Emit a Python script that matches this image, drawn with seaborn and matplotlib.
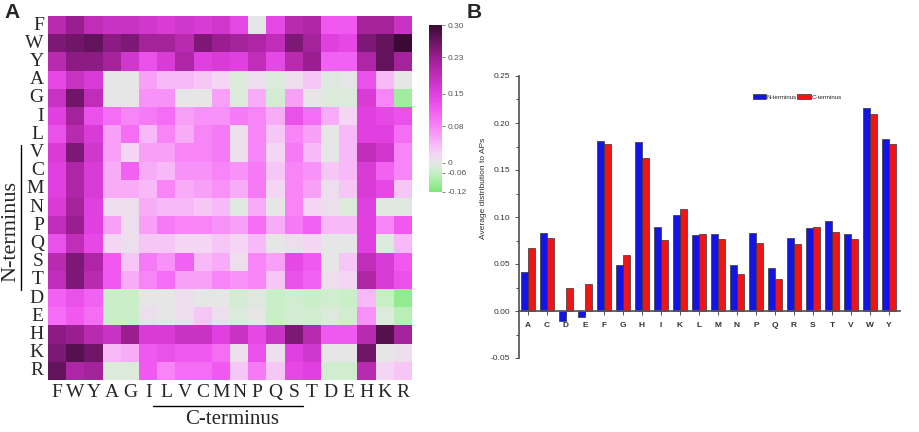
import numpy as np
import matplotlib
matplotlib.use("Agg")
import matplotlib.pyplot as plt
import matplotlib.colors as mcolors
from matplotlib.lines import Line2D
from matplotlib.ticker import AutoMinorLocator, FormatStrFormatter
import pandas as pd
import seaborn as sns

## Heatmap data (rows = N-terminus residue, cols = C-terminus residue) ##
residues = ["F", "W", "Y", "A", "G", "I", "L", "V", "C", "M",
            "N", "P", "Q", "S", "T", "D", "E", "H", "K", "R"]

heat_values = [
    # F    W     Y     A     G     I     L     V     C     M     N     P     Q     S     T     D     E     H     K     R
    [0.20, 0.23, 0.19, 0.18, 0.18, 0.17, 0.16, 0.17, 0.16, 0.17, 0.14, 0.00, 0.14, 0.20, 0.21, 0.12, 0.12, 0.22, 0.22, 0.18],   # F
    [0.25, 0.26, 0.27, 0.24, 0.25, 0.22, 0.22, 0.20, 0.25, 0.23, 0.22, 0.21, 0.19, 0.25, 0.22, 0.15, 0.14, 0.25, 0.27, 0.30],   # W
    [0.20, 0.24, 0.24, 0.22, 0.17, 0.13, 0.16, 0.21, 0.15, 0.16, 0.15, 0.19, 0.14, 0.20, 0.23, 0.11, 0.11, 0.21, 0.27, 0.22],   # Y
    [0.14, 0.18, 0.16, 0.00, 0.00, 0.06, 0.04, 0.04, 0.03, 0.02, -0.02, 0.01, -0.02, 0.01, 0.03, -0.01, 0.00, 0.13, 0.04, 0.00],  # A
    [0.18, 0.26, 0.19, 0.00, 0.00, 0.07, 0.07, 0.00, 0.00, 0.06, -0.02, 0.05, -0.03, 0.06, 0.00, -0.02, -0.02, 0.16, 0.08, -0.09],  # G
    [0.15, 0.22, 0.13, 0.10, 0.08, 0.09, 0.10, 0.06, 0.07, 0.07, 0.09, 0.08, 0.05, 0.13, 0.10, 0.05, 0.02, 0.15, 0.14, 0.13],   # I
    [0.13, 0.20, 0.16, 0.06, 0.10, 0.04, 0.08, 0.05, 0.08, 0.09, 0.01, 0.08, 0.03, 0.08, 0.06, 0.00, 0.04, 0.15, 0.15, 0.10],   # L
    [0.16, 0.25, 0.17, 0.06, 0.02, 0.06, 0.06, 0.08, 0.08, 0.09, 0.01, 0.08, 0.02, 0.09, 0.04, 0.00, 0.04, 0.19, 0.17, 0.08],   # V
    [0.15, 0.21, 0.16, 0.05, 0.11, 0.05, 0.04, 0.07, 0.07, 0.08, 0.07, 0.09, 0.03, 0.08, 0.07, 0.03, 0.04, 0.16, 0.11, 0.08],   # C
    [0.15, 0.21, 0.16, 0.05, 0.05, 0.04, 0.08, 0.05, 0.06, 0.07, 0.05, 0.09, 0.02, 0.08, 0.06, 0.01, 0.03, 0.16, 0.14, 0.03],   # M
    [0.16, 0.22, 0.15, 0.01, 0.01, 0.05, 0.04, 0.04, 0.03, 0.04, -0.01, 0.05, 0.00, 0.08, 0.02, 0.01, -0.02, 0.15, -0.01, -0.01],  # N
    [0.19, 0.23, 0.15, 0.06, 0.01, 0.06, 0.09, 0.08, 0.08, 0.07, 0.06, 0.10, 0.05, 0.09, 0.11, 0.04, 0.04, 0.15, 0.08, 0.12],   # P
    [0.13, 0.19, 0.14, 0.02, 0.01, 0.03, 0.03, 0.02, 0.02, 0.03, 0.02, 0.04, 0.00, 0.01, 0.02, 0.00, 0.00, 0.15, -0.02, 0.04],  # Q
    [0.20, 0.25, 0.21, 0.12, 0.03, 0.09, 0.07, 0.11, 0.04, 0.05, 0.01, 0.08, 0.06, 0.14, 0.12, 0.00, 0.03, 0.19, 0.16, 0.12],   # S
    [0.19, 0.25, 0.20, 0.12, 0.05, 0.08, 0.10, 0.06, 0.06, 0.08, 0.07, 0.08, 0.03, 0.13, 0.11, 0.01, 0.02, 0.21, 0.16, 0.13],   # T
    [0.11, 0.13, 0.11, -0.05, -0.05, 0.00, 0.00, 0.01, 0.00, 0.00, -0.03, -0.01, -0.05, -0.04, -0.05, -0.04, -0.05, 0.04, -0.06, -0.10],  # D
    [0.10, 0.12, 0.10, -0.05, -0.05, 0.01, 0.00, 0.01, 0.03, 0.01, -0.02, 0.00, -0.05, -0.03, -0.04, -0.02, -0.04, 0.07, -0.02, -0.07],  # E
    [0.24, 0.23, 0.20, 0.18, 0.23, 0.16, 0.16, 0.18, 0.18, 0.15, 0.18, 0.14, 0.18, 0.25, 0.20, 0.12, 0.12, 0.20, 0.28, 0.22],   # H
    [0.25, 0.28, 0.26, 0.04, 0.05, 0.12, 0.13, 0.12, 0.12, 0.10, 0.01, 0.13, 0.01, 0.15, 0.17, 0.00, 0.00, 0.26, 0.00, 0.01],   # K
    [0.27, 0.21, 0.22, -0.02, -0.02, 0.12, 0.08, 0.10, 0.10, 0.12, 0.03, 0.09, 0.03, 0.14, 0.15, -0.04, -0.04, 0.20, 0.02, 0.03],  # R
]

cbar_ticks = [0.30, 0.23, 0.15, 0.08, 0.0, -0.06, -0.12]
cbar_ticklabels = ["0.30", "0.23", "0.15", "0.08", "0", "-0.06", "-0.12"]

## Bar chart data ##
bar_residues = ["A", "C", "D", "E", "F", "G", "H", "I", "K", "L",
                "M", "N", "P", "Q", "R", "S", "T", "V", "W", "Y"]
n_terminus = [0.042, 0.083, -0.011, -0.006, 0.181, 0.049, 0.180, 0.089, 0.102, 0.081,
              0.082, 0.049, 0.083, 0.046, 0.078, 0.088, 0.096, 0.082, 0.216, 0.183]
c_terminus = [0.067, 0.078, 0.025, 0.029, 0.178, 0.060, 0.163, 0.076, 0.108, 0.082,
              0.077, 0.039, 0.072, 0.034, 0.071, 0.089, 0.084, 0.077, 0.210, 0.178]

sns.set_theme(style="white")
plt.rcParams["font.family"] = ["Liberation Sans", "DejaVu Sans"]

W, H = 920, 432
fig = plt.figure(figsize=(W / 100, H / 100), dpi=100)

## Piecewise colour scale (zero sits low on the bar) ##
anchor_v = [-0.12, -0.06, 0.0, 0.30]
anchor_p = [0.0, 0.114, 0.174, 1.0]

def fwd(x):
    return np.interp(x, anchor_v, anchor_p)

def inv(y):
    return np.interp(y, anchor_p, anchor_v)

norm = mcolors.FuncNorm((fwd, inv), vmin=-0.12, vmax=0.30)
cmap_vals = [-0.12, -0.06, 0.0, 0.02, 0.04, 0.08, 0.12, 0.15, 0.20, 0.23, 0.30]
cmap_cols = ["#7ee87a", "#c6f0c4", "#e6e6e6", "#f4d4f4", "#f8b8f8", "#f884f8",
             "#f058f0", "#e040e0", "#b82ab0", "#9a1e90", "#3a0a34"]
cmap = mcolors.LinearSegmentedColormap.from_list(
    "ap", [(float(fwd(v)), c) for v, c in zip(cmap_vals, cmap_cols)])

## Panel A: heatmap ##
ax_h = fig.add_axes([48 / W, 1 - 380 / H, 364 / W, 364 / H])
cax = fig.add_axes([429 / W, 1 - 192 / H, 13 / W, 167 / H])
df = pd.DataFrame(heat_values, index=residues, columns=residues)
sns.heatmap(df, ax=ax_h, cmap=cmap, norm=norm, cbar_ax=cax,
            xticklabels=True, yticklabels=True)
ax_h.set_xticklabels(residues, rotation=0, fontsize=14, family="Liberation Serif")
ax_h.set_yticklabels(residues, rotation=0, fontsize=14, family="Liberation Serif")
ax_h.tick_params(length=0, pad=3)
ax_h.set_xlabel("")
ax_h.set_ylabel("")

cbar = ax_h.collections[0].colorbar
cbar.set_ticks(cbar_ticks, labels=cbar_ticklabels)
cbar.ax.tick_params(labelsize=6, colors="#555555", length=2, width=0.5, pad=2)
cbar.outline.set_visible(False)

## Terminus annotations ##
fig.text(11 / W, 1 - 232 / H, "N-terminus", rotation=90, ha="center", va="center",
         fontsize=16, family="Liberation Serif")
fig.add_artist(Line2D([21 / W, 21 / W], [1 - 145 / H, 1 - 290 / H], color="black", lw=1))
fig.text(232 / W, 1 - 420 / H, "C-terminus", ha="center", va="center",
         fontsize=15, family="Liberation Serif")
fig.add_artist(Line2D([153 / W, 303 / W], [1 - 406 / H, 1 - 406 / H], color="black", lw=1))

fig.text(4 / W, 1 - 12 / H, "A", fontsize=15, fontweight="bold", va="center")
fig.text(467 / W, 1 - 12 / H, "B", fontsize=15, fontweight="bold", va="center")

## Panel B: bar chart ##
ax_b = fig.add_axes([519 / W, 1 - 358 / H, 381 / W, 282 / H])
bar_df = pd.DataFrame({
    "residue": bar_residues * 2,
    "value": n_terminus + c_terminus,
    "terminus": ["N-terminus"] * 20 + ["C-terminus"] * 20,
})
sns.barplot(data=bar_df, x="residue", y="value", hue="terminus",
            palette=["#1414e6", "#f01414"], saturation=1, width=0.7,
            edgecolor="#333333", linewidth=0.5, ax=ax_b)

ax_b.set_xlim(-0.47, 19.58)
ax_b.set_ylim(-0.05, 0.25)
sns.despine(ax=ax_b)
ax_b.spines["bottom"].set_position(("data", 0))
ax_b.spines["left"].set_color("#555555")
ax_b.spines["bottom"].set_color("#555555")
ax_b.set_yticks([-0.05, 0.0, 0.05, 0.10, 0.15, 0.20, 0.25])
ax_b.yaxis.set_major_formatter(FormatStrFormatter("%.2f"))
ax_b.yaxis.set_minor_locator(AutoMinorLocator(2))
ax_b.tick_params(axis="y", which="both", direction="out", left=True, labelsize=6,
                 colors="#333333", width=0.6)
ax_b.tick_params(axis="y", which="major", length=3)
ax_b.tick_params(axis="y", which="minor", length=2)
ax_b.tick_params(axis="x", direction="out", bottom=True, length=3, width=0.6,
                 labelsize=6, colors="#333333", pad=5)
for lab in ax_b.get_xticklabels():
    lab.set_fontweight("bold")
ax_b.set_xlabel("")
ax_b.set_ylabel("Average distribution to APs", fontsize=6, color="#333333")
ax_b.yaxis.set_label_coords(-0.085, 0.6)

ax_b.legend(loc="center", bbox_to_anchor=(0.73, 0.926), ncol=2, frameon=False,
            fontsize=4.5, handlelength=2.2, handleheight=1.0, columnspacing=0.0,
            handletextpad=0.1, borderaxespad=0)

fig.savefig("out.png", dpi=100)
